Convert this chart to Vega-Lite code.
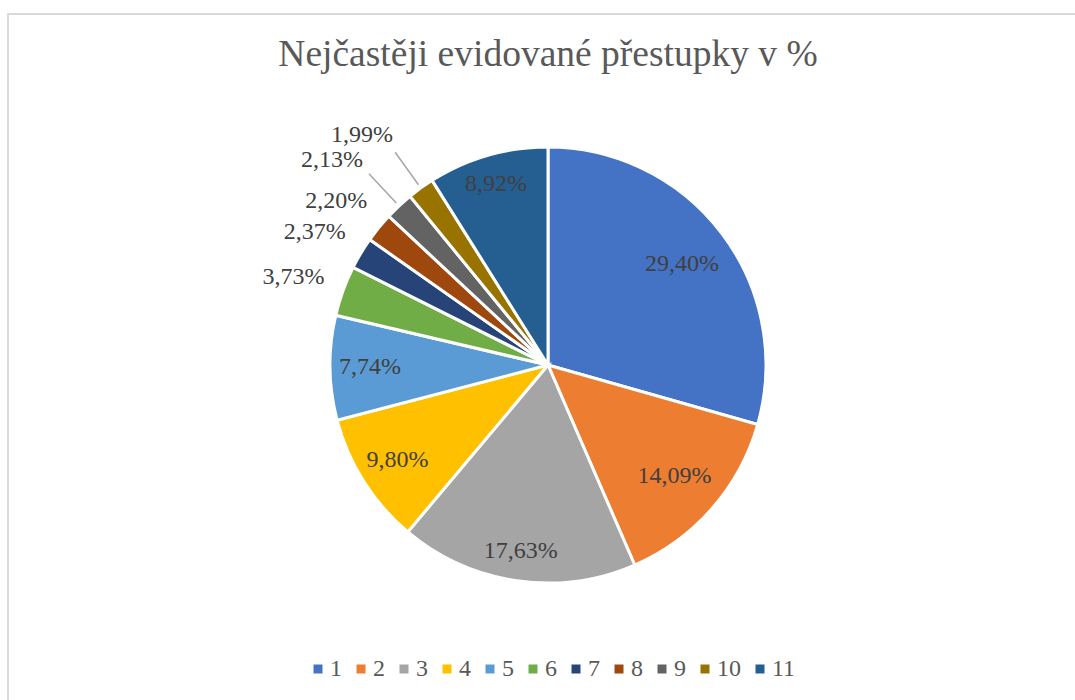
{
  "$schema": "https://vega.github.io/schema/vega-lite/v6.json",
  "autosize": {"type": "none"},
  "width": 1080,
  "height": 702,
  "padding": {"left": 8, "top": 14, "right": -13, "bottom": -16},
  "background": "white",
  "config": {"view": {"stroke": null}, "font": "Liberation Serif"},
  "title": {"text": "Nejčastěji evidované přestupky v %", "anchor": "middle", "frame": "group", "orient": "top", "offset": -60, "fontSize": 37.5, "font": "Liberation Serif", "fontWeight": "normal", "color": "#595959"},
  "datasets": {
    "slices": [
      {"n": 1, "kat": "1", "pct": 29.40, "label": "29,40%"},
      {"n": 2, "kat": "2", "pct": 14.09, "label": "14,09%"},
      {"n": 3, "kat": "3", "pct": 17.63, "label": "17,63%"},
      {"n": 4, "kat": "4", "pct": 9.80, "label": "9,80%"},
      {"n": 5, "kat": "5", "pct": 7.74, "label": "7,74%"},
      {"n": 6, "kat": "6", "pct": 3.73, "label": "3,73%"},
      {"n": 7, "kat": "7", "pct": 2.37, "label": "2,37%"},
      {"n": 8, "kat": "8", "pct": 2.20, "label": "2,20%"},
      {"n": 9, "kat": "9", "pct": 2.13, "label": "2,13%"},
      {"n": 10, "kat": "10", "pct": 1.99, "label": "1,99%"},
      {"n": 11, "kat": "11", "pct": 8.92, "label": "8,92%"}
    ],
    "frame": [{"f": 1}]
  },
  "layer": [
    {
      "data": {"name": "frame"},
      "mark": {"type": "rect", "fill": null, "fillOpacity": 0, "stroke": "#d9d9d9", "strokeWidth": 2}
    },
    {
      "data": {"name": "slices"},
      "encoding": {
        "theta": {"field": "pct", "type": "quantitative", "stack": true},
        "order": {"field": "n", "type": "quantitative"},
        "detail": {"field": "kat", "type": "nominal"}
      },
      "layer": [
        {
          "mark": {"type": "arc", "outerRadius": 218, "stroke": "white", "strokeWidth": 3},
          "encoding": {
            "color": {
              "field": "kat", "type": "nominal",
              "scale": {
                "domain": ["1", "2", "3", "4", "5", "6", "7", "8", "9", "10", "11"],
                "range": ["#4472C4", "#ED7D31", "#A5A5A5", "#FFC000", "#5B9BD5", "#70AD47", "#264478", "#9E480E", "#636363", "#997300", "#255E91"]
              },
              "legend": {
                "title": null, "orient": "none", "direction": "horizontal",
                "legendX": 298, "legendY": 643,
                "symbolType": "square", "symbolSize": 81, "symbolStrokeWidth": 0,
                "labelFontSize": 24, "labelFont": "Liberation Serif", "labelColor": "#595959",
                "labelOffset": 0, "columnPadding": 7
              }
            }
          }
        },
        {
          "mark": {"type": "arc", "innerRadius": 222, "outerRadius": 262, "padAngle": 1, "fill": null, "fillOpacity": 0, "stroke": "#a6a6a6", "strokeWidth": 1.5},
          "encoding": {
            "strokeOpacity": {"condition": {"test": "datum.n == 9 || datum.n == 10", "value": 1}, "value": 0}
          }
        },
        {
          "mark": {"type": "text", "radius": 168, "fontSize": 24, "font": "Liberation Serif", "color": "#404040"},
          "encoding": {"text": {"condition": {"test": "datum.n <= 2", "field": "label"}, "value": ""}}
        },
        {
          "mark": {"type": "text", "radius": 178, "fontSize": 24, "font": "Liberation Serif", "color": "#404040"},
          "encoding": {"text": {"condition": {"test": "datum.n == 4 || datum.n == 5", "field": "label"}, "value": ""}}
        },
        {
          "mark": {"type": "text", "radius": 188, "fontSize": 24, "font": "Liberation Serif", "color": "#404040"},
          "encoding": {"text": {"condition": {"test": "datum.n == 3 || datum.n == 11", "field": "label"}, "value": ""}}
        },
        {
          "mark": {"type": "text", "radius": 260, "dx": -10, "fontSize": 24, "font": "Liberation Serif", "color": "#404040"},
          "encoding": {"text": {"condition": {"test": "datum.n >= 6 && datum.n <= 8", "field": "label"}, "value": ""}}
        },
        {
          "mark": {"type": "text", "radius": 300, "dx": -11, "dy": 14, "fontSize": 24, "font": "Liberation Serif", "color": "#404040"},
          "encoding": {"text": {"condition": {"test": "datum.n == 9 || datum.n == 10", "field": "label"}, "value": ""}}
        }
      ]
    }
  ]
}
